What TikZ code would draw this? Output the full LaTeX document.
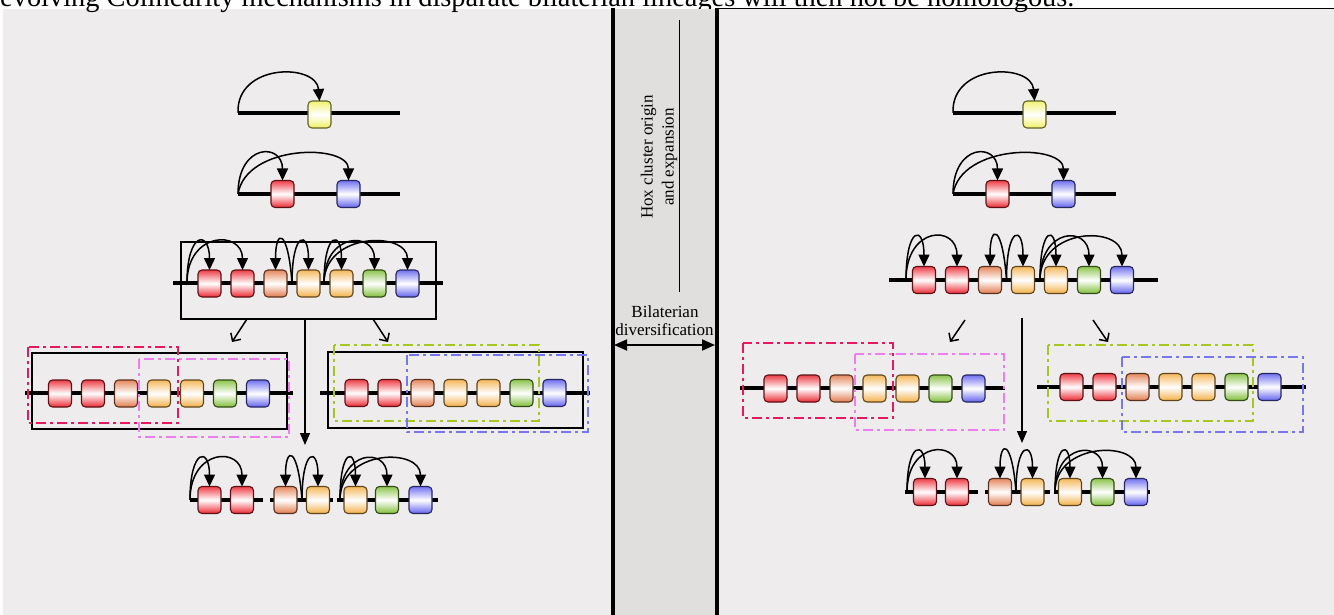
\documentclass[tikz,border=0pt]{standalone}
\usepackage{fontspec}
\setmainfont{Liberation Serif}
\usetikzlibrary{arrows.meta}
\definecolor{bgc}{RGB}{238,236,236}
\definecolor{bandc}{RGB}{224,223,222}
\definecolor{hred}{RGB}{235,40,50}
\definecolor{hora}{RGB}{226,122,76}
\definecolor{hlor}{RGB}{243,176,72}
\definecolor{hgrn}{RGB}{128,190,58}
\definecolor{hblu}{RGB}{98,98,238}
\definecolor{hyel}{RGB}{240,240,100}
\definecolor{dcrim}{RGB}{232,24,90}
\definecolor{dpink}{RGB}{238,125,238}
\definecolor{dgrn}{RGB}{166,200,30}
\definecolor{dblu}{RGB}{118,118,240}
\tikzset{
  gene/.style={draw=#1!40!black, line width=1.1pt, rounded corners=4pt,
    minimum width=23pt, minimum height=27pt, inner sep=0pt, outer sep=0pt,
    top color=#1!90!white, bottom color=#1, middle color=white},
  chrom/.style={line width=3.8pt},
  hoxarc/.style={line width=1.5pt, -{Triangle[length=12pt,width=11pt]}},
  frame/.style={draw, line width=1.2pt, inner sep=0pt, outer sep=0pt},
  dd/.style={line width=1.8pt, dash pattern=on 10pt off 4pt on 3pt off 4pt},
  evo/.style={line width=1.3pt, -{Triangle[length=12pt,width=10pt]}},
  diag/.style={line width=1.5pt, -{Straight Barb[length=6pt,width=12pt]}},
  lbl/.style={inner sep=0pt, font=\fontsize{17}{21}\selectfont},
}
\newcommand\hoxseven[4]{%
  \foreach \k/\c in {1/hred,2/hred,3/hora,4/hlor,5/hlor,6/hgrn,7/hblu}{%
    \node[gene=\c] (#1-\k) at ({#2+(\k-1)*#3},#4) {};}}
\newcommand\harc[4]{\draw[hoxarc] (#1) .. controls +(#3) and +(#4) .. (#2.north);}
\begin{document}
\begin{tikzpicture}[x=1pt,y=-1pt]
\useasboundingbox (0,0) rectangle (1334,615);
\fill[white] (0,0) rectangle (1334,615);
\fill[bgc] (3,9.5) rectangle (1334,615);
% top cropped text
\node[anchor=base west, inner sep=0pt, font=\fontsize{28.4}{32}\selectfont] (toptext) at (0,6.5)
  {evolving Colinearity mechanisms in disparate bilaterian lineages will then not be homologous.};
\draw[line width=1pt] (719,8.5) -- (1334,8.5);
% central band
\fill[bandc] (612,9) rectangle (717,615);
\draw[line width=4pt] (612.5,8) -- (612.5,615);
\draw[line width=4.5pt] (717,8) -- (717,615);
\coordinate (vt) at (679,20); \coordinate (vb) at (679,292);
\draw[line width=0.9pt] (vt) -- (vb);
\node[lbl, rotate=90, align=center] (hoxlbl) at (659,157) {Hox cluster origin\\and expansion};
\node[lbl, anchor=base] (bil1) at (665,317) {Bilaterian};
\node[lbl, anchor=base] (bil2) at (664.5,335) {diversification};
\coordinate (dl) at (614,345); \coordinate (dr) at (715,345);
\draw[line width=1.8pt, {Triangle[length=13pt,width=11pt]}-{Triangle[length=13pt,width=11pt]}] (dl) -- (dr);

% ================= LEFT PANEL =================
% row 1
\coordinate (A1s) at (238,113); \coordinate (A1e) at (400,113);
\draw[chrom] (A1s) -- (A1e);
\node[gene=hyel] (A1g) at (319.5,114.5) {};
\harc{A1s}{A1g}{-2,-50}{-3,-38}
% row 2
\coordinate (A2s) at (238,194); \coordinate (A2e) at (400,194);
\draw[chrom] (A2s) -- (A2e);
\node[gene=hred] (A2r) at (282.5,194) {};
\node[gene=hblu] (A2b) at (348.5,194) {};
\harc{A2s}{A2r}{0,-51}{0,-38}
\harc{A2s}{A2b}{8,-50}{0,-37}
% row 3
\node[frame, minimum width=255pt, minimum height=77pt] (A3box) at (308.5,280.5) {};
\coordinate (A3l) at (173,283); \coordinate (A3r) at (443,283);
\draw[chrom] (A3l) -- (A3r);
\hoxseven{A3}{209.5}{33}{283.5}
\coordinate (A3s1) at (187,283); \coordinate (A3s2) at (292,283); \coordinate (A3s3) at (324,283);
\harc{A3s1}{A3-1}{0,-52}{0,-40}
\harc{A3s1}{A3-2}{0,-52}{0,-40}
\harc{A3s2}{A3-3}{-4,-55}{0,-42}
\harc{A3s2}{A3-4}{0,-52}{0,-40}
\harc{A3s3}{A3-5}{0,-52}{0,-40}
\harc{A3s3}{A3-6}{0,-51}{0,-39}
\harc{A3s3}{A3-7}{0,-51}{0,-39}
% arrows from row 3
\coordinate (Ad1s) at (247,319); \coordinate (Ad1e) at (232,342);
\coordinate (Ad2s) at (373,319); \coordinate (Ad2e) at (388,342);
\coordinate (Avs) at (305,319); \coordinate (Ave) at (305,445);
\draw[diag] (Ad1s) -- (Ad1e);
\draw[diag] (Ad2s) -- (Ad2e);
\draw[evo] (Avs) -- (Ave);
% row 4 left
\node[frame, minimum width=255pt, minimum height=76pt] (B1box) at (159.5,391) {};
\coordinate (B1l) at (25,393); \coordinate (B1r) at (293,393);
\draw[chrom] (B1l) -- (B1r);
\hoxseven{B1}{60}{33}{393.5}
\draw[dd, dcrim] (28,347) rectangle (178,423);
\draw[dd, dpink] (139,359) rectangle (289,437);
% row 4 right
\node[frame, minimum width=255pt, minimum height=76pt] (B2box) at (455.5,390) {};
\coordinate (B2l) at (320,393); \coordinate (B2r) at (590,393);
\draw[chrom] (B2l) -- (B2r);
\hoxseven{B2}{356.5}{33}{393}
\draw[dd, dgrn] (334,345) rectangle (539,421);
\draw[dd, dblu] (407,355) rectangle (588,432);
% row 5
\coordinate (C1a) at (190,500); \coordinate (C1b) at (263,500);
\coordinate (C2a) at (270,500); \coordinate (C2b) at (333,500);
\coordinate (C3a) at (337,500); \coordinate (C3b) at (438,500);
\draw[chrom] (C1a) -- (C1b); \draw[chrom] (C2a) -- (C2b); \draw[chrom] (C3a) -- (C3b);
\node[gene=hred] (C-1) at (209.5,500) {};
\node[gene=hred] (C-2) at (242,500) {};
\node[gene=hora] (C-3) at (285.5,500) {};
\node[gene=hlor] (C-4) at (318,500) {};
\node[gene=hlor] (C-5) at (355.5,500) {};
\node[gene=hgrn] (C-6) at (387,500) {};
\node[gene=hblu] (C-7) at (420.5,500) {};
\coordinate (Cs1) at (190,500); \coordinate (Cs2) at (302,500); \coordinate (Cs3) at (340,500);
\harc{Cs1}{C-1}{0,-52}{0,-40}
\harc{Cs1}{C-2}{0,-52}{0,-40}
\harc{Cs2}{C-3}{-4,-54}{0,-41}
\harc{Cs2}{C-4}{0,-52}{0,-40}
\harc{Cs3}{C-5}{0,-52}{0,-40}
\harc{Cs3}{C-6}{0,-51}{0,-39}
\harc{Cs3}{C-7}{0,-51}{0,-39}

% ================= RIGHT PANEL =================
% row 1
\coordinate (D1s) at (953,113); \coordinate (D1e) at (1116,113);
\draw[chrom] (D1s) -- (D1e);
\node[gene=hyel] (D1g) at (1034.5,114.5) {};
\harc{D1s}{D1g}{-2,-50}{-3,-38}
% row 2
\coordinate (D2s) at (953,194); \coordinate (D2e) at (1116,194);
\draw[chrom] (D2s) -- (D2e);
\node[gene=hred] (D2r) at (997.5,194) {};
\node[gene=hblu] (D2b) at (1063.5,194) {};
\harc{D2s}{D2r}{0,-51}{0,-38}
\harc{D2s}{D2b}{8,-50}{0,-37}
% row 3
\coordinate (D3l) at (889,280); \coordinate (D3r) at (1158,280);
\draw[chrom] (D3l) -- (D3r);
\hoxseven{D3}{924}{33}{280}
\coordinate (D3s1) at (906,280); \coordinate (D3s2) at (1006.5,280); \coordinate (D3s3) at (1040,280);
\harc{D3s1}{D3-1}{0,-54}{0,-42}
\harc{D3s1}{D3-2}{0,-54}{0,-42}
\harc{D3s2}{D3-3}{-4,-56}{0,-43}
\harc{D3s2}{D3-4}{0,-54}{0,-42}
\harc{D3s3}{D3-5}{0,-54}{0,-42}
\harc{D3s3}{D3-6}{0,-53}{0,-41}
\harc{D3s3}{D3-7}{0,-53}{0,-41}
% arrows from row 3
\coordinate (Dd1s) at (965,320); \coordinate (Dd1e) at (950,342);
\coordinate (Dd2s) at (1093,320); \coordinate (Dd2e) at (1108,342);
\coordinate (Dvs) at (1022,318); \coordinate (Dve) at (1022,443);
\draw[diag] (Dd1s) -- (Dd1e);
\draw[diag] (Dd2s) -- (Dd2e);
\draw[evo] (Dvs) -- (Dve);
% row 4 left
\coordinate (E1l) at (740,388); \coordinate (E1r) at (1005,388);
\draw[chrom] (E1l) -- (E1r);
\hoxseven{E1}{775.5}{33}{388.5}
\draw[dd, dcrim] (743,343) rectangle (893,418);
\draw[dd, dpink] (855,354) rectangle (1004,430);
% row 4 right
\coordinate (E2l) at (1037,387); \coordinate (E2r) at (1306,387);
\draw[chrom] (E2l) -- (E2r);
\hoxseven{E2}{1071.5}{33}{387}
\draw[dd, dgrn] (1048,345) rectangle (1253,421);
\draw[dd, dblu] (1122,357) rectangle (1303,432);
% row 5
\coordinate (F1a) at (905,492); \coordinate (F1b) at (978,492);
\coordinate (F2a) at (985,492); \coordinate (F2b) at (1050,492);
\coordinate (F3a) at (1054,492); \coordinate (F3b) at (1150,492);
\draw[chrom] (F1a) -- (F1b); \draw[chrom] (F2a) -- (F2b); \draw[chrom] (F3a) -- (F3b);
\node[gene=hred] (F-1) at (925,492) {};
\node[gene=hred] (F-2) at (957,492) {};
\node[gene=hora] (F-3) at (1000,492) {};
\node[gene=hlor] (F-4) at (1032.5,492) {};
\node[gene=hlor] (F-5) at (1070,492) {};
\node[gene=hgrn] (F-6) at (1102.5,492) {};
\node[gene=hblu] (F-7) at (1136,492) {};
\coordinate (Fs1) at (907,492); \coordinate (Fs2) at (1016,492); \coordinate (Fs3) at (1055,492);
\harc{Fs1}{F-1}{0,-51}{0,-38}
\harc{Fs1}{F-2}{0,-51}{0,-38}
\harc{Fs2}{F-3}{-4,-53}{0,-39}
\harc{Fs2}{F-4}{0,-51}{0,-38}
\harc{Fs3}{F-5}{0,-51}{0,-38}
\harc{Fs3}{F-6}{0,-50}{0,-37}
\harc{Fs3}{F-7}{0,-50}{0,-37}
\end{tikzpicture}
\end{document}
